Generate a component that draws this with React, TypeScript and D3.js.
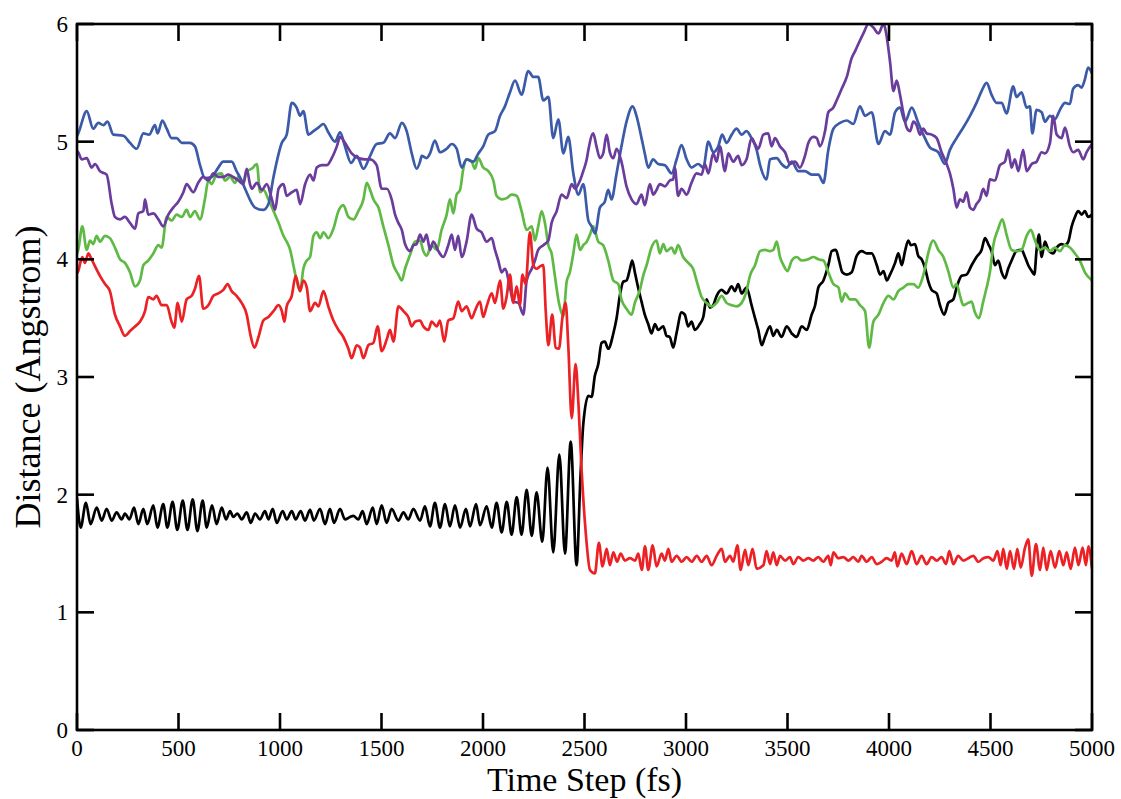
import React from "react";
import * as d3 from "d3";

type P = [number, number];

const xTicks = [0, 500, 1000, 1500, 2000, 2500, 3000, 3500, 4000, 4500, 5000];
const yTicks = [0, 1, 2, 3, 4, 5, 6];
const xTitle = "Time Step (fs)";
const yTitle = "Distance (Angstrom)";

const blueSeries: P[] = [[0,5.05],[6,5.07],[48,5.26],[80,5.11],[105,5.16],[130,5.14],[150,5.17],[179,5.06],[228,5.05],[261,4.99],[294,4.94],[327,5.07],[355,5.06],[384,5.14],[397,5.07],[420,5.18],[442,5.11],[466,5.03],[491,5.03],[516,4.99],[556,4.99],[581,4.96],[606,4.80],[630,4.69],[663,4.70],[696,4.78],[720,4.83],[762,4.83],[786,4.75],[811,4.67],[828,4.60],[877,4.44],[918,4.42],[943,4.47],[968,4.70],[1009,4.99],[1033,5.06],[1058,5.33],[1082,5.29],[1099,5.22],[1115,5.26],[1140,5.06],[1165,5.09],[1189,5.12],[1214,5.15],[1238,5.08],[1271,5.00],[1296,5.08],[1320,4.96],[1350,4.82],[1378,4.88],[1411,4.77],[1444,4.88],[1476,4.98],[1509,4.99],[1542,5.07],[1567,5.03],[1600,5.16],[1624,5.09],[1649,4.90],[1673,4.77],[1690,4.83],[1698,4.88],[1722,4.86],[1739,4.90],[1763,5.01],[1788,4.91],[1821,4.94],[1846,4.98],[1870,4.94],[1895,4.78],[1919,4.85],[1952,4.83],[1977,4.90],[2001,4.96],[2026,5.06],[2059,5.09],[2084,5.22],[2108,5.30],[2133,5.42],[2158,5.52],[2190,5.40],[2223,5.60],[2248,5.55],[2272,5.55],[2297,5.35],[2322,5.38],[2346,5.03],[2371,5.19],[2396,4.90],[2420,5.04],[2445,4.73],[2470,4.55],[2494,4.64],[2519,4.33],[2535,4.28],[2552,4.22],[2576,4.44],[2600,4.49],[2617,4.59],[2633,4.51],[2658,4.73],[2682,4.96],[2707,5.17],[2737,5.30],[2756,5.22],[2781,5.03],[2797,4.90],[2814,4.78],[2838,4.85],[2863,4.81],[2896,4.80],[2929,4.73],[2954,4.85],[2978,4.97],[3003,4.85],[3027,4.78],[3060,4.81],[3085,4.78],[3110,5.00],[3134,4.91],[3159,4.96],[3178,5.06],[3200,4.99],[3225,5.06],[3249,5.11],[3274,5.06],[3298,5.09],[3323,5.03],[3348,4.93],[3365,4.80],[3397,4.68],[3414,4.85],[3447,4.86],[3471,4.81],[3496,4.78],[3521,4.83],[3553,4.75],[3586,4.75],[3619,4.72],[3652,4.72],[3677,4.65],[3701,4.93],[3726,5.11],[3759,5.16],[3792,5.18],[3824,5.15],[3857,5.30],[3882,5.22],[3915,5.25],[3948,4.98],[3980,5.09],[4005,5.06],[4030,5.25],[4054,5.29],[4079,5.17],[4112,5.29],[4144,5.16],[4169,5.06],[4202,4.95],[4243,4.91],[4275,4.81],[4300,4.93],[4333,5.03],[4366,5.12],[4399,5.22],[4431,5.33],[4456,5.43],[4481,5.50],[4505,5.40],[4530,5.33],[4555,5.33],[4579,5.24],[4612,5.47],[4628,5.38],[4653,5.42],[4678,5.29],[4694,5.30],[4706,5.07],[4727,5.27],[4752,5.25],[4768,5.17],[4793,5.22],[4817,5.19],[4842,5.27],[4867,5.33],[4891,5.32],[4907,5.45],[4932,5.48],[4949,5.46],[4965,5.53],[4981,5.63],[5000,5.58]];

const purpleSeries: P[] = [[0,4.92],[6,4.91],[23,4.85],[48,4.86],[72,4.78],[89,4.81],[113,4.75],[146,4.72],[171,4.47],[187,4.36],[212,4.34],[236,4.36],[261,4.31],[286,4.26],[302,4.39],[327,4.41],[335,4.51],[351,4.38],[376,4.39],[401,4.34],[425,4.28],[450,4.38],[474,4.44],[499,4.49],[524,4.57],[540,4.64],[573,4.57],[597,4.65],[622,4.70],[647,4.67],[672,4.73],[696,4.70],[721,4.70],[745,4.72],[770,4.70],[795,4.67],[819,4.64],[836,4.77],[852,4.64],[861,4.60],[886,4.65],[911,4.59],[935,4.64],[960,4.51],[976,4.42],[993,4.60],[1017,4.64],[1033,4.54],[1058,4.57],[1082,4.59],[1099,4.47],[1124,4.64],[1148,4.72],[1165,4.67],[1181,4.78],[1206,4.80],[1230,4.80],[1255,4.86],[1280,4.96],[1296,5.04],[1320,4.99],[1353,4.90],[1386,4.86],[1419,4.85],[1444,4.85],[1476,4.80],[1501,4.60],[1526,4.60],[1550,4.51],[1567,4.38],[1583,4.31],[1600,4.25],[1616,4.13],[1641,4.07],[1657,4.12],[1673,4.13],[1690,4.21],[1706,4.15],[1722,4.21],[1739,4.08],[1755,4.15],[1780,4.07],[1804,4.02],[1829,4.12],[1846,4.21],[1862,4.08],[1878,4.20],[1895,4.02],[1919,4.15],[1944,4.38],[1969,4.26],[1993,4.23],[2018,4.15],[2043,4.18],[2059,4.08],[2075,3.99],[2092,3.89],[2108,3.92],[2133,3.76],[2149,3.64],[2174,3.63],[2199,3.53],[2215,3.82],[2240,3.92],[2256,3.99],[2272,4.08],[2297,4.12],[2322,4.16],[2338,4.31],[2363,4.41],[2387,4.55],[2412,4.52],[2437,4.64],[2453,4.60],[2478,4.67],[2494,4.75],[2511,4.85],[2519,4.93],[2543,5.07],[2559,4.96],[2576,4.86],[2592,4.90],[2609,5.06],[2625,4.91],[2642,4.86],[2658,4.94],[2682,4.83],[2707,4.62],[2732,4.51],[2756,4.47],[2781,4.55],[2797,4.46],[2822,4.64],[2838,4.55],[2855,4.59],[2871,4.64],[2896,4.62],[2920,4.67],[2937,4.68],[2945,4.78],[2961,4.54],[2978,4.60],[3003,4.55],[3027,4.65],[3052,4.73],[3077,4.72],[3093,4.81],[3110,4.73],[3134,4.90],[3151,4.83],[3167,4.96],[3192,4.75],[3208,4.90],[3233,4.83],[3257,4.88],[3274,4.80],[3298,4.85],[3323,5.03],[3340,4.98],[3356,4.94],[3381,5.06],[3405,5.07],[3422,4.96],[3438,5.03],[3463,4.96],[3488,4.91],[3512,4.81],[3537,4.83],[3561,4.78],[3586,4.88],[3603,4.99],[3627,5.04],[3644,5.03],[3660,4.96],[3685,5.09],[3701,5.25],[3726,5.29],[3742,5.35],[3767,5.45],[3792,5.55],[3816,5.71],[3833,5.77],[3857,5.86],[3874,5.92],[3899,6.0],[3923,5.97],[3948,5.92],[3973,6.0],[3989,5.89],[4005,5.68],[4022,5.43],[4038,5.52],[4054,5.40],[4071,5.24],[4087,5.12],[4104,5.09],[4120,5.17],[4136,5.14],[4153,5.06],[4169,5.11],[4186,5.07],[4210,5.06],[4235,5.03],[4259,4.91],[4284,4.81],[4300,4.73],[4317,4.60],[4333,4.44],[4350,4.51],[4366,4.49],[4382,4.57],[4399,4.44],[4415,4.42],[4431,4.47],[4448,4.51],[4464,4.60],[4481,4.54],[4497,4.68],[4522,4.67],[4546,4.80],[4571,4.83],[4587,4.93],[4604,4.78],[4620,4.85],[4637,4.75],[4661,4.93],[4678,4.75],[4703,4.81],[4727,4.83],[4752,4.91],[4768,4.90],[4793,4.99],[4809,5.22],[4826,5.06],[4850,5.03],[4867,5.12],[4891,4.96],[4907,4.91],[4932,4.93],[4957,4.85],[4973,4.91],[5000,4.98]];

const greenSeries: P[] = [[0,4.05],[6,4.08],[26,4.28],[48,4.08],[64,4.16],[80,4.13],[97,4.20],[113,4.15],[138,4.20],[162,4.18],[187,4.10],[212,4.00],[236,3.97],[261,3.89],[286,3.77],[310,3.82],[327,3.95],[351,3.99],[376,4.05],[401,4.12],[417,4.10],[442,4.36],[466,4.33],[491,4.38],[516,4.36],[540,4.42],[557,4.36],[581,4.41],[606,4.34],[630,4.51],[647,4.67],[663,4.64],[688,4.72],[712,4.73],[729,4.67],[754,4.70],[778,4.65],[795,4.70],[819,4.64],[836,4.75],[861,4.77],[886,4.81],[902,4.57],[918,4.59],[943,4.51],[968,4.41],[993,4.31],[1017,4.20],[1033,4.15],[1050,4.08],[1066,3.95],[1082,3.82],[1099,3.73],[1115,3.92],[1132,3.99],[1148,4.02],[1165,4.20],[1181,4.23],[1198,4.18],[1214,4.23],[1238,4.18],[1263,4.26],[1288,4.41],[1312,4.46],[1337,4.36],[1362,4.34],[1386,4.41],[1411,4.51],[1427,4.65],[1444,4.59],[1460,4.51],[1485,4.44],[1509,4.28],[1534,4.12],[1559,3.95],[1583,3.87],[1600,3.82],[1616,3.92],[1641,4.04],[1665,4.15],[1690,4.16],[1706,4.07],[1722,4.03],[1747,4.12],[1772,4.08],[1796,4.25],[1821,4.38],[1837,4.51],[1854,4.39],[1870,4.55],[1887,4.59],[1903,4.77],[1919,4.85],[1944,4.83],[1960,4.77],[1977,4.86],[2001,4.78],[2026,4.75],[2051,4.67],[2067,4.54],[2092,4.51],[2117,4.52],[2141,4.55],[2166,4.54],[2190,4.41],[2215,4.25],[2240,4.28],[2256,4.16],[2272,4.28],[2289,4.41],[2305,4.31],[2322,4.12],[2338,4.05],[2354,3.86],[2374,3.63],[2396,3.52],[2412,3.81],[2428,3.89],[2445,4.05],[2461,4.21],[2478,4.08],[2494,4.12],[2511,4.15],[2527,4.21],[2543,4.28],[2568,4.15],[2592,4.12],[2617,3.99],[2642,3.82],[2666,3.79],[2682,3.66],[2707,3.58],[2732,3.53],[2748,3.63],[2773,3.74],[2789,3.86],[2806,3.95],[2830,4.10],[2855,4.16],[2871,4.05],[2888,4.13],[2904,4.07],[2929,4.10],[2945,4.05],[2961,4.12],[2986,4.02],[3011,3.97],[3035,3.92],[3052,3.82],[3077,3.68],[3101,3.63],[3126,3.60],[3151,3.63],[3175,3.69],[3200,3.63],[3225,3.61],[3249,3.60],[3274,3.63],[3298,3.73],[3315,3.86],[3340,3.95],[3365,4.07],[3389,4.08],[3414,4.07],[3430,4.08],[3447,4.15],[3463,4.02],[3480,3.95],[3500,3.90],[3521,3.99],[3545,4.02],[3570,3.99],[3603,4.00],[3627,4.02],[3652,4.00],[3677,3.99],[3701,3.89],[3726,3.79],[3751,3.76],[3767,3.64],[3783,3.71],[3808,3.66],[3833,3.66],[3857,3.61],[3882,3.56],[3902,3.25],[3923,3.47],[3948,3.53],[3973,3.63],[3997,3.69],[4022,3.66],[4046,3.73],[4071,3.76],[4095,3.79],[4120,3.79],[4144,3.76],[4161,3.82],[4177,3.92],[4193,4.05],[4218,4.16],[4243,4.08],[4268,4.02],[4292,3.90],[4317,3.76],[4333,3.79],[4350,3.69],[4366,3.61],[4391,3.63],[4407,3.64],[4423,3.55],[4443,3.50],[4464,3.64],[4481,3.76],[4497,3.89],[4514,4.12],[4538,4.26],[4558,4.34],[4579,4.21],[4604,4.08],[4628,4.07],[4653,4.08],[4678,4.20],[4699,4.25],[4719,4.16],[4744,4.08],[4768,4.10],[4793,4.07],[4817,4.10],[4842,4.07],[4867,4.12],[4891,4.10],[4916,4.05],[4940,3.99],[4965,3.89],[5000,3.82]];

const redSeries: P[] = [[0,3.88],[6,3.90],[26,4.02],[39,3.97],[56,4.05],[72,4.00],[89,3.94],[113,3.86],[138,3.79],[162,3.73],[187,3.53],[212,3.43],[236,3.35],[261,3.39],[286,3.43],[310,3.47],[335,3.56],[351,3.68],[376,3.66],[392,3.69],[417,3.61],[442,3.61],[466,3.47],[479,3.42],[496,3.63],[516,3.47],[540,3.66],[565,3.69],[581,3.75],[601,3.86],[622,3.58],[647,3.61],[672,3.69],[696,3.71],[721,3.74],[742,3.79],[762,3.73],[786,3.69],[811,3.63],[836,3.53],[853,3.37],[874,3.25],[894,3.34],[918,3.48],[943,3.51],[968,3.56],[993,3.61],[1009,3.56],[1022,3.47],[1033,3.60],[1058,3.69],[1077,3.86],[1099,3.73],[1115,3.82],[1132,3.76],[1148,3.56],[1173,3.63],[1189,3.60],[1214,3.73],[1238,3.60],[1263,3.48],[1288,3.40],[1312,3.34],[1337,3.24],[1353,3.16],[1378,3.27],[1394,3.25],[1411,3.16],[1435,3.27],[1460,3.29],[1481,3.43],[1501,3.22],[1526,3.32],[1542,3.40],[1559,3.30],[1583,3.60],[1608,3.56],[1632,3.51],[1649,3.43],[1665,3.47],[1690,3.48],[1706,3.43],[1731,3.40],[1747,3.47],[1772,3.43],[1788,3.48],[1809,3.30],[1829,3.48],[1854,3.50],[1878,3.64],[1895,3.56],[1919,3.60],[1944,3.50],[1960,3.56],[1985,3.64],[2001,3.51],[2018,3.60],[2043,3.71],[2059,3.63],[2084,3.82],[2100,3.58],[2117,3.69],[2133,3.87],[2149,3.63],[2166,3.77],[2182,3.61],[2194,3.87],[2210,3.79],[2231,4.23],[2248,3.95],[2264,3.92],[2281,3.94],[2297,3.95],[2309,3.56],[2322,3.27],[2341,3.53],[2358,3.25],[2374,3.24],[2391,3.50],[2407,3.63],[2420,3.27],[2437,2.65],[2456,3.11],[2470,2.78],[2486,2.20],[2506,1.68],[2527,1.36],[2551,1.33],[2571,1.59],[2589,1.39],[2609,1.54],[2625,1.40],[2642,1.51],[2661,1.43],[2678,1.50],[2699,1.44],[2724,1.46],[2749,1.44],[2765,1.50],[2782,1.36],[2798,1.56],[2814,1.36],[2836,1.57],[2855,1.39],[2880,1.50],[2896,1.44],[2913,1.54],[2929,1.43],[2954,1.48],[2979,1.43],[3003,1.47],[3028,1.43],[3053,1.48],[3077,1.43],[3102,1.48],[3126,1.40],[3151,1.48],[3176,1.54],[3192,1.43],[3217,1.48],[3233,1.43],[3253,1.57],[3269,1.36],[3291,1.53],[3307,1.40],[3328,1.54],[3348,1.37],[3381,1.40],[3397,1.52],[3414,1.41],[3430,1.51],[3447,1.40],[3463,1.48],[3488,1.44],[3512,1.47],[3529,1.41],[3553,1.47],[3578,1.44],[3603,1.46],[3627,1.44],[3652,1.47],[3676,1.43],[3701,1.48],[3713,1.40],[3726,1.51],[3750,1.46],[3775,1.47],[3800,1.44],[3824,1.47],[3849,1.43],[3865,1.48],[3890,1.43],[3915,1.47],[3939,1.41],[3964,1.43],[3988,1.46],[4013,1.44],[4029,1.51],[4041,1.39],[4062,1.50],[4087,1.41],[4112,1.52],[4136,1.41],[4161,1.48],[4185,1.41],[4210,1.47],[4235,1.44],[4259,1.47],[4281,1.41],[4297,1.52],[4317,1.41],[4341,1.48],[4366,1.44],[4391,1.46],[4415,1.48],[4440,1.43],[4465,1.46],[4489,1.47],[4514,1.44],[4534,1.52],[4550,1.40],[4563,1.54],[4580,1.37],[4596,1.52],[4616,1.37],[4632,1.54],[4649,1.38],[4670,1.55],[4686,1.62],[4703,1.31],[4724,1.58],[4744,1.36],[4760,1.55],[4777,1.36],[4796,1.52],[4818,1.38],[4839,1.52],[4859,1.40],[4875,1.51],[4895,1.37],[4916,1.55],[4933,1.40],[4954,1.55],[4970,1.40],[4982,1.56],[5000,1.37]];

const blackSeries: P[] = [[0,1.97],[18,1.72],[44,1.93],[67,1.75],[97,1.89],[122,1.78],[146,1.88],[171,1.78],[195,1.85],[220,1.79],[236,1.84],[258,1.79],[281,1.89],[302,1.75],[327,1.88],[346,1.75],[376,1.91],[396,1.72],[425,1.92],[445,1.72],[471,1.94],[494,1.70],[521,1.95],[544,1.70],[570,1.96],[593,1.69],[619,1.95],[639,1.72],[665,1.91],[688,1.75],[713,1.89],[734,1.79],[754,1.86],[770,1.81],[790,1.84],[811,1.79],[836,1.85],[856,1.76],[877,1.84],[901,1.79],[926,1.86],[943,1.79],[964,1.88],[984,1.76],[1013,1.86],[1033,1.79],[1058,1.86],[1077,1.79],[1102,1.86],[1123,1.78],[1148,1.87],[1167,1.78],[1197,1.88],[1222,1.75],[1246,1.88],[1266,1.76],[1296,1.88],[1320,1.79],[1345,1.81],[1361,1.82],[1386,1.79],[1407,1.86],[1427,1.75],[1457,1.89],[1476,1.75],[1501,1.91],[1525,1.76],[1550,1.88],[1583,1.78],[1608,1.85],[1632,1.79],[1657,1.88],[1690,1.78],[1714,1.90],[1739,1.73],[1763,1.93],[1788,1.72],[1813,1.92],[1837,1.73],[1862,1.91],[1887,1.72],[1916,1.88],[1936,1.73],[1966,1.92],[1985,1.74],[2018,1.90],[2043,1.72],[2067,1.93],[2092,1.68],[2117,1.94],[2141,1.66],[2166,1.98],[2190,1.66],[2215,2.04],[2240,1.65],[2264,2.02],[2292,1.60],[2318,2.23],[2346,1.51],[2376,2.34],[2404,1.50],[2432,2.45],[2461,1.40],[2480,2.15],[2494,2.60],[2519,2.84],[2535,2.83],[2551,3.01],[2568,3.11],[2584,3.29],[2600,3.30],[2617,3.24],[2642,3.37],[2658,3.50],[2674,3.69],[2691,3.81],[2707,3.82],[2724,3.92],[2735,3.99],[2748,3.89],[2764,3.76],[2781,3.64],[2797,3.53],[2814,3.45],[2830,3.37],[2847,3.45],[2863,3.40],[2888,3.43],[2904,3.35],[2920,3.34],[2937,3.25],[2953,3.37],[2978,3.55],[2994,3.53],[3011,3.43],[3027,3.47],[3044,3.40],[3068,3.45],[3085,3.51],[3101,3.66],[3118,3.59],[3134,3.61],[3151,3.69],[3175,3.74],[3200,3.71],[3225,3.77],[3241,3.73],[3257,3.79],[3274,3.71],[3298,3.76],[3323,3.61],[3340,3.50],[3356,3.40],[3373,3.27],[3389,3.34],[3414,3.43],[3430,3.35],[3447,3.40],[3471,3.34],[3496,3.43],[3521,3.37],[3545,3.34],[3570,3.43],[3595,3.40],[3619,3.53],[3636,3.61],[3652,3.76],[3677,3.82],[3701,3.95],[3718,4.07],[3738,4.08],[3754,3.99],[3770,3.89],[3792,3.87],[3816,3.89],[3841,4.03],[3866,4.07],[3890,4.05],[3915,4.05],[3940,3.95],[3956,3.87],[3973,3.90],[3989,3.82],[4005,3.87],[4030,3.97],[4046,4.05],[4063,3.95],[4079,4.07],[4095,4.16],[4108,4.12],[4128,4.13],[4144,4.03],[4161,4.00],[4177,3.93],[4194,3.81],[4210,3.74],[4235,3.71],[4251,3.61],[4272,3.53],[4292,3.63],[4317,3.66],[4333,3.76],[4358,3.86],[4382,3.87],[4407,3.95],[4431,4.02],[4456,4.08],[4473,4.18],[4489,4.13],[4505,4.07],[4522,3.95],[4538,3.99],[4555,3.89],[4571,3.84],[4587,3.92],[4604,3.99],[4628,4.07],[4653,4.08],[4670,4.02],[4686,3.95],[4703,3.90],[4716,3.87],[4727,4.08],[4739,4.21],[4752,4.02],[4768,4.15],[4785,4.08],[4809,4.05],[4826,4.10],[4850,4.13],[4867,4.12],[4883,4.15],[4900,4.28],[4916,4.36],[4932,4.41],[4949,4.38],[4965,4.41],[4981,4.36],[5000,4.38]];

const seriesList: { data: P[]; color: string }[] = [
  { data: blackSeries, color: "#000000" },
  { data: greenSeries, color: "#5fba45" },
  { data: blueSeries, color: "#3b5aa8" },
  { data: purpleSeries, color: "#6a3c9c" },
  { data: redSeries, color: "#ec2125" },
];

const W = 1121;
const H = 799;
const PL = 77, PR = 1092, PT = 24, PB = 730;
const FONT = "Liberation Serif, Times New Roman, serif";

export default function App() {
  const x = d3.scaleLinear().domain([0, 5000]).range([PL, PR]);
  const y = d3.scaleLinear().domain([0, 6]).range([PB, PT]);
  const line = d3
    .line<P>()
    .x((d) => x(d[0]))
    .y((d) => y(d[1]))
    .curve(d3.curveMonotoneX);
  const tickLen = 17;
  const textStyle = { fontFamily: FONT };
  return (
    <svg
      width={W}
      height={H}
      style={{ position: "absolute", left: 0, top: 0, background: "#fff" }}
    >
      <defs>
        <clipPath id="plotClip">
          <rect x={PL} y={PT} width={PR - PL} height={PB - PT} />
        </clipPath>
      </defs>
      <g clipPath="url(#plotClip)">
        {seriesList.map((s, i) => (
          <path
            key={i}
            d={line(s.data) || ""}
            fill="none"
            stroke={s.color}
            strokeWidth={2.7}
            strokeLinejoin="round"
          />
        ))}
      </g>
      {xTicks.map((t) => (
        <g key={"xt" + t}>
          <line x1={x(t)} x2={x(t)} y1={PB} y2={PB - tickLen} stroke="#000" strokeWidth={2.6} />
          <line x1={x(t)} x2={x(t)} y1={PT} y2={PT + tickLen} stroke="#000" strokeWidth={2.6} />
          <text x={x(t)} y={756} textAnchor="middle" fontSize={23} fill="#000" style={textStyle}>
            {t}
          </text>
        </g>
      ))}
      {yTicks.map((t) => (
        <g key={"yt" + t}>
          <line x1={PL} x2={PL + tickLen} y1={y(t)} y2={y(t)} stroke="#000" strokeWidth={2.6} />
          <line x1={PR} x2={PR - tickLen} y1={y(t)} y2={y(t)} stroke="#000" strokeWidth={2.6} />
          <text x={68} y={y(t) + 8} textAnchor="end" fontSize={23} fill="#000" style={textStyle}>
            {t}
          </text>
        </g>
      ))}
      <rect x={PL} y={PT} width={PR - PL} height={PB - PT} fill="none" stroke="#000" strokeWidth={2.6} />
      <text x={(PL + PR) / 2} y={791} textAnchor="middle" fontSize={34} fill="#000" style={textStyle}>
        {xTitle}
      </text>
      <text
        transform={`translate(40, ${(PT + PB) / 2}) rotate(-90)`}
        textAnchor="middle"
        fontSize={36}
        fill="#000"
        style={textStyle}
      >
        {yTitle}
      </text>
    </svg>
  );
}
